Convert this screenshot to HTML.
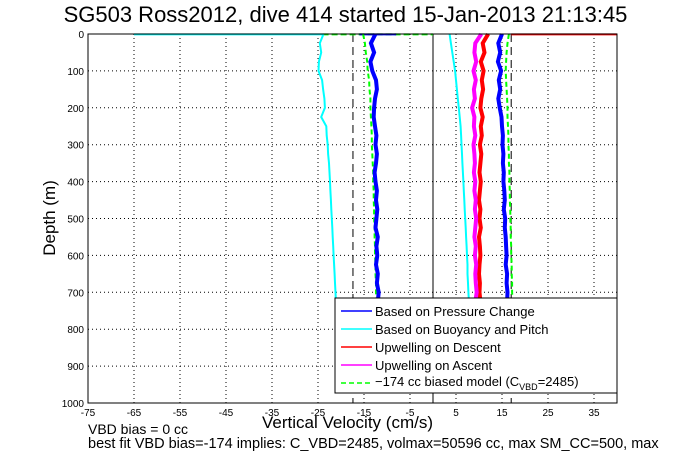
<!DOCTYPE html>
<html><head><meta charset="utf-8"><style>
body{margin:0;background:#fff;}
svg{display:block;font-family:"Liberation Sans",sans-serif;}
</style></head><body>
<svg id="c" width="681" height="454"></svg>
<script>
const depths=[0,25,50,75,100,125,150,175,200,225,250,275,300,325,350,375,400,425,450,475,500,525,550,575,600,625,650,675,700,725];
const blueDown=[-12.5,-13.5,-12.8,-13.6,-13.2,-12.4,-12.2,-12.6,-12.8,-12.9,-12.6,-12.3,-12.5,-12.2,-12.4,-12.7,-12.5,-12.2,-12.4,-12.1,-12.3,-12.5,-12.0,-12.3,-12.1,-12.4,-12.0,-12.2,-11.8,-12.0];
const greenDown=[-15.2,-14.8,-14.6,-14.3,-14.2,-13.9,-13.8,-13.6,-13.6,-13.5,-13.4,-13.3,-13.3,-13.2,-13.1,-13.0,-13.0,-12.9,-12.9,-12.8,-12.8,-12.7,-12.7,-12.6,-12.6,-12.5,-12.5,-12.4,-12.4,-12.3];
const cyanDown=[-23.8,-24.6,-24.3,-24.8,-24.9,-24.1,-23.9,-23.6,-23.5,-24.3,-23.2,-23.1,-22.9,-22.8,-22.6,-22.5,-22.4,-22.3,-22.2,-22.1,-22.0,-21.9,-21.8,-21.7,-21.6,-21.5,-21.4,-21.3,-21.2,-21.1];
const blueUp=[15.0,14.2,14.6,14.1,14.8,14.3,14.6,14.2,14.5,14.9,15.0,15.2,15.1,15.3,15.2,15.4,15.3,15.5,15.6,15.4,15.7,15.6,15.8,15.9,16.0,15.8,16.1,16.0,16.2,16.1];
const greenUp=[16.5,16.2,16.0,15.9,15.8,15.9,16.0,16.1,16.2,16.2,16.3,16.4,16.4,16.5,16.5,16.6,16.6,16.7,16.7,16.8,16.8,16.9,16.9,17.0,17.0,17.1,17.1,17.2,17.2,17.3];
const cyanUp=[3.6,3.9,4.2,4.5,4.8,5.0,5.2,5.4,5.6,5.8,6.0,6.1,6.2,6.3,6.4,6.5,6.6,6.7,6.8,6.9,7.0,7.1,7.2,7.3,7.4,7.5,7.5,7.6,7.7,7.8];
const redUp=[12.0,10.8,11.2,10.4,11.0,10.6,10.9,10.5,10.3,10.8,10.4,10.6,10.2,10.5,10.3,10.1,10.4,10.2,10.0,10.3,10.1,10.4,10.0,10.2,10.3,10.1,10.0,10.2,10.1,10.3];
const magUp=[10.5,9.2,9.0,9.4,8.8,9.3,8.9,9.1,8.5,9.0,8.9,9.2,8.8,9.0,9.1,8.9,9.2,9.0,9.3,9.1,9.4,9.2,9.0,9.3,9.1,9.4,9.2,9.3,9.5,9.2];
const xTicks=[-75,-65,-55,-45,-35,-25,-15,-5,5,15,25,35];
const yTicks=[0,100,200,300,400,500,600,700,800,900,1000];
const L=88,R=617,T=34,B=403,xmin=-75,xmax=40;
const X=v=>L+(v-xmin)/(xmax-xmin)*(R-L);
const Y=d=>T+d/1000*(B-T);
const svg=document.getElementById('c');
const NS='http://www.w3.org/2000/svg';
function mk(tag,at,txt){const e=document.createElementNS(NS,tag);for(const k in at)e.setAttribute(k,at[k]);if(txt!==undefined)e.textContent=txt;svg.appendChild(e);return e;}
xTicks.forEach(v=>{const g=mk('line',{x1:X(v),x2:X(v),y1:T,y2:B,stroke:'#000','stroke-width':1,'stroke-dasharray':'1,3'});


const t=mk('text',{x:X(v),y:B+13,'font-size':10,'text-anchor':'middle'},String(v));

});
yTicks.forEach(v=>{const g=mk('line',{x1:L,x2:R,y1:Y(v),y2:Y(v),stroke:'#000','stroke-width':1,'stroke-dasharray':'1,3'});


const t=mk('text',{x:L-4,y:Y(v)+4,'font-size':10,'text-anchor':'end'},String(v));

});
let z=mk('line',{x1:X(0),x2:X(0),y1:T,y2:B,stroke:'#000','stroke-width':1});


[-17.4,17].forEach(v=>{const d=mk('line',{x1:X(v),x2:X(v),y1:T,y2:B,stroke:'#000','stroke-width':1,'stroke-dasharray':'8,5'});

});
function seg(a,b,c,w,name,dash){const s=mk('line',{x1:X(a),x2:X(b),y1:Y(1),y2:Y(1),stroke:c,'stroke-width':w});if(dash)s.setAttribute('stroke-dasharray',dash);

}
seg(-65,-24,'#00ffff',2,'cyan-surface');
seg(-24,0,'#00ff00',2,'green-surface','6,3');
seg(-16,-8,'#0000ff',2,'blue-surface');
seg(17,40,'#ff0000',2,'red-surface');
function series(vals,c,w,name,dash){const p=vals.map((v,i)=>X(v).toFixed(1)+','+Y(depths[i]).toFixed(1)).join(' ');
const e=mk('polyline',{points:p,fill:'none',stroke:c,'stroke-width':w});if(dash)e.setAttribute('stroke-dasharray',dash);

}
series(cyanDown,'#00ffff',2,'cyan-descent');
let ce=mk('line',{x1:X(-21.1),x2:X(-21),y1:Y(725),y2:Y(800),stroke:'#00ffff','stroke-width':2});


series(cyanUp,'#00ffff',2,'cyan-ascent');
series(greenDown,'#00ff00',2,'green-model-descent','5,3');
series(greenUp,'#00ff00',2,'green-model-ascent','5,3');
series(redUp,'#ff0000',4,'upwelling-descent');
series(magUp,'#ff00ff',4,'upwelling-ascent');
series(blueDown,'#0000ff',4,'pressure-descent');
series(blueUp,'#0000ff',4,'pressure-ascent');
let fr=mk('rect',{x:L,y:T,width:R-L,height:B-T,fill:'none',stroke:'#000','stroke-width':1});


const lg=mk('rect',{x:335,y:298,width:282,height:95,fill:'#fff',stroke:'#000','stroke-width':1});


const leg=[['Based on Pressure Change','#0000ff'],['Based on Buoyancy and Pitch','#00ffff'],['Upwelling on Descent','#ff0000'],['Upwelling on Ascent','#ff00ff']];
leg.forEach((l,i)=>{const y=311+i*18;const ln=mk('line',{x1:341,x2:372,y1:y,y2:y,stroke:l[1],'stroke-width':1.5});


const t=mk('text',{x:375,y:y+5,'font-size':13},l[0]);

});
const dl=mk('line',{x1:341,x2:372,y1:383,y2:383,stroke:'#00ff00','stroke-width':1.5,'stroke-dasharray':'5,3'});


const mt=mk('text',{x:375,y:386,'font-size':13});


mt.innerHTML='−174 cc biased model (C<tspan font-size="9" dy="4">VBD</tspan><tspan dy="-4">=2485)</tspan>';
</script>
<div style="position:absolute;left:0;top:0;width:681px;height:454px;pointer-events:none;font-family:'Liberation Sans',sans-serif;">
<div style="position:absolute;left:0;width:681px;top:2px;text-align:center;font-size:22px;padding-left:10px;box-sizing:border-box;">SG503 Ross2012, dive 414 started 15-Jan-2013 21:13:45</div>
<div style="position:absolute;left:50px;top:218px;font-size:17px;transform:translate(-50%,-50%) rotate(-90deg);white-space:nowrap;">Depth (m)</div>
<div style="position:absolute;left:262px;top:413px;font-size:17px;white-space:nowrap;">Vertical Velocity (cm/s)</div>
<div style="position:absolute;left:88px;top:421px;font-size:14px;white-space:nowrap;">VBD bias = 0 cc</div>
<div style="position:absolute;left:88px;top:436px;font-size:14.5px;white-space:nowrap;">best fit VBD bias=-174 implies: C_VBD=2485, volmax=50596 cc, max SM_CC=500, max</div>
</div>
</body></html>
